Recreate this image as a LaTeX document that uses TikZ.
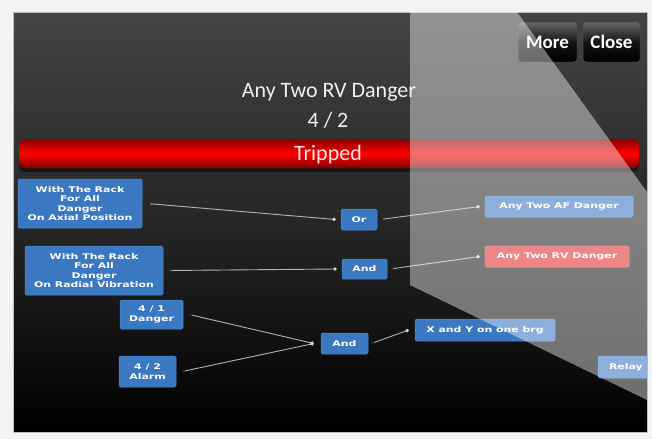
\documentclass[tikz,border=0pt]{standalone}
\usepackage{fontspec}
\setmainfont{Carlito}
\newfontfamily\boxfont[FakeStretch=1.4]{DejaVu Sans}
\usetikzlibrary{arrows.meta}
\definecolor{pagebg}{HTML}{F3F3F3}
\definecolor{paneltop}{HTML}{444444}
\definecolor{panelmid}{HTML}{262626}
\definecolor{panelbot}{HTML}{000000}
\definecolor{boxblue}{HTML}{3A78C2}
\definecolor{boxedge}{HTML}{4F8AD0}
\definecolor{rvred}{HTML}{E03030}
\definecolor{linegray}{HTML}{B4B4B4}
\definecolor{titlewhite}{HTML}{F0F0F0}
\tikzset{
  box/.style={draw=boxedge, line width=0.5pt, fill=boxblue, rounded corners=1.5pt,
    text=white, align=center, inner sep=0pt,
    font=\boxfont\bfseries\fontsize{7.8}{9.6}\selectfont},
  conn/.style={draw=linegray, line width=0.9pt,
    arrows={Circle[length=3pt,color=black!85]-Circle[length=3.5pt,color=gray!35]}},
  btn/.style={rounded corners=3pt, top color=black!60, bottom color=black, middle color=black!92,
    draw=black!70, line width=0.5pt},
  btntext/.style={text=white, font=\bfseries\fontsize{19}{22}\selectfont, anchor=base},
  titletext/.style={text=titlewhite, font=\fontsize{22}{26}\selectfont, anchor=base}
}
\begin{document}
\begin{tikzpicture}[x=1pt,y=-1pt]
\useasboundingbox (0,0) rectangle (652,439);
\fill[pagebg] (0,0) rectangle (652,439);
% panel
\shade[top color=paneltop, bottom color=panelbot, middle color=panelmid] (13,12) rectangle (647,432);
\draw[black!25, line width=0.6pt] (13,12) rectangle (647,432);
\begin{scope}
\clip (13,12) rectangle (647,432);
% buttons
\draw[btn] (518,22) rectangle (577,62);
\draw[btn] (583,22) rectangle (640,62);
\node[btntext] (more) at (547.5,48) {More};
\node[btntext] (close) at (611.5,48) {Close};
% title
\node[titletext] (title) at (329,97) {Any Two RV Danger};
\node[titletext] (ratio) at (328,127) {4 / 2};
% red bar
\fill[black, opacity=0.5, rounded corners=6pt] (19,141) rectangle (639,172);
\shade[rounded corners=6pt, top color=red!55!black, bottom color=red!50!black, middle color=red] (19,139) rectangle (639,168);
\node[titletext, text=white!90!red] (trip) at (328,160) {Tripped};
% boxes
\node[box, minimum width=124pt, minimum height=49pt] (b1) at (80,203.5) {With The Rack\\For All\\Danger\\On Axial Position};
\node[box, minimum width=138pt, minimum height=49pt] (b2) at (94,270.5) {With The Rack\\For All\\Danger\\On Radial Vibration};
\node[box, minimum width=36pt, minimum height=21pt] (or) at (359,219.5) {Or};
\node[box, minimum width=45pt, minimum height=20pt] (and1) at (364.5,269) {And};
\node[box, minimum width=148pt, minimum height=21pt] (af) at (559,206.5) {Any Two AF Danger};
\node[box, fill=rvred, draw=rvred!80!white, minimum width=144pt, minimum height=21pt] (rv) at (557,256.5) {Any Two RV Danger};
\node[box, minimum width=63pt, minimum height=29pt] (d41) at (151.5,314.5) {4 / 1\\Danger};
\node[box, minimum width=57pt, minimum height=31pt] (a42) at (147.5,371.5) {4 / 2\\Alarm};
\node[box, minimum width=47pt, minimum height=21pt] (and2) at (344.5,343.5) {And};
\node[box, minimum width=140pt, minimum height=22pt] (xy) at (485,330) {X and Y on one brg};
\node[box, minimum width=62pt, minimum height=22pt, text width=60pt, align=left] (relay) at (629,367) {\hspace*{10pt}Relay};
% connectors
\draw[conn] ([xshift=5pt]b1.east) -- ([xshift=-5pt]or.west);
\draw[conn] ([xshift=3pt]or.east) -- ([xshift=-5pt]af.west);
\draw[conn] ([xshift=5pt]b2.east) -- ([xshift=-5pt]and1.west);
\draw[conn] ([xshift=3pt]and1.east) -- ([xshift=-5pt]rv.west);
\draw[conn] ([xshift=6pt]d41.east) -- ([xshift=-7pt]and2.west);
\draw[conn] ([xshift=6pt]a42.east) -- ([xshift=-7pt]and2.west);
\draw[conn] ([xshift=3pt]and2.east) -- ([xshift=-6pt]xy.west);
% translucent overlay
\fill[white, opacity=0.42] (410,12) -- (517,12) -- (647,192) -- (647,400) -- (410,285) -- cycle;
\end{scope}
\end{tikzpicture}
\end{document}
